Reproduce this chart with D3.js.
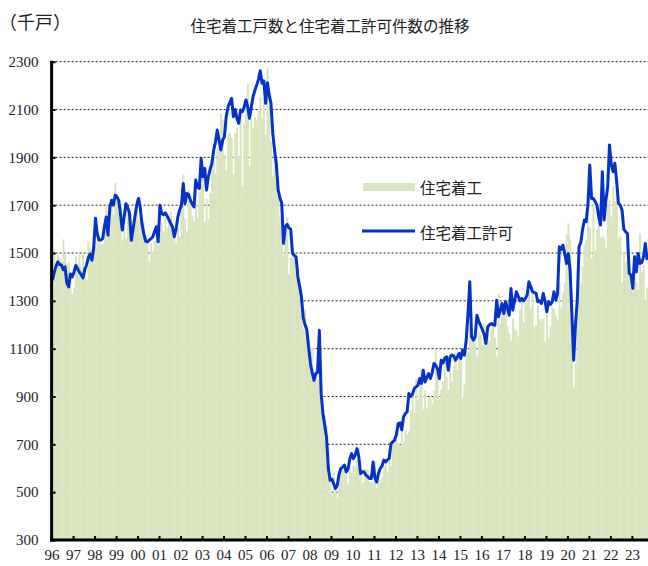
<!DOCTYPE html>
<html><head><meta charset="utf-8">
<script src="https://cdn.jsdelivr.net/npm/d3@7"></script>
<style>
html,body{margin:0;padding:0;background:#fff;}
svg{display:block;}
</style></head>
<body>
<svg id="chart" width="648" height="566"></svg>
<script>
// ---- data (thousands of units, monthly from Jan 1996) ----
const title = "住宅着工戸数と住宅着工許可件数の推移";
const unitLabel = "（千戸）";
const seriesNames = ["住宅着工", "住宅着工許可"];
const yearLabels = ["96","97","98","99","00","01","02","03","04","05","06","07","08","09","10","11","12","13","14","15","16","17","18","19","20","21","22","23"];
const yTicks = [300,500,700,900,1100,1300,1500,1700,1900,2100,2300];

const starts = [
 1437,1515,1457,1492,1478,1467,1557,1491,1454,1460,1403,1330, // 1996
 1355,1486,1457,1492,1442,1494,1437,1390,1546,1520,1510,1566, // 1997
 1525,1584,1567,1540,1536,1641,1698,1614,1582,1715,1660,1792, // 1998
 1748,1670,1710,1553,1611,1559,1669,1648,1635,1608,1648,1708, // 1999
 1636,1737,1604,1626,1575,1559,1463,1541,1507,1549,1551,1532, // 2000
 1600,1625,1590,1649,1605,1636,1670,1567,1562,1540,1602,1568, // 2001
 1698,1829,1642,1592,1764,1717,1655,1633,1804,1648,1753,1788, // 2002
 1853,1629,1726,1643,1751,1867,1897,1833,1939,1967,2083,2057, // 2003
 1911,1846,1998,2003,1981,1828,2002,2024,1905,2072,1782,2042, // 2004
 2144,2207,1864,2061,2025,2068,2054,2095,2151,2065,2147,1994, // 2005
 2273,2119,1969,1821,1942,1802,1737,1650,1720,1491,1570,1649, // 2006
 1409,1480,1495,1490,1415,1448,1354,1330,1183,1264,1197,1037, // 2007
 1084,1103,1005,1013,973,1046,923,844,820,777,652,560,        // 2008
 490,582,505,478,540,585,594,586,585,534,588,581,             // 2009
 614,604,636,687,583,536,546,599,594,543,545,539,             // 2010
 630,517,600,554,561,608,623,585,650,611,719,703,             // 2011
 720,704,695,753,708,757,740,754,847,915,833,976,             // 2012
 888,962,1010,847,925,849,893,898,868,923,1097,1000,          // 2013
 888,929,962,1052,984,927,1085,962,1025,1087,1012,1072,       // 2014
 1087,894,951,1191,1085,1185,1142,1151,1185,1067,1171,1157,   // 2015
 1114,1208,1113,1160,1136,1183,1207,1146,1070,1328,1204,1288, // 2016
 1252,1290,1192,1164,1133,1225,1183,1174,1150,1262,1299,1209, // 2017
 1328,1291,1344,1268,1328,1190,1198,1279,1224,1216,1225,1130, // 2018
 1257,1147,1195,1273,1265,1239,1222,1376,1269,1335,1374,1578, // 2019
 1624,1558,1276,938,1038,1275,1497,1371,1445,1535,1557,1669,  // 2020
 1606,1480,1706,1509,1596,1666,1564,1571,1562,1524,1703,1722, // 2021
 1652,1777,1716,1810,1562,1571,1377,1505,1463,1432,1419,1357, // 2022
 1340,1436,1380,1348,1583,1418,1451,1305,1356                 // 2023
];

const permits = [
 1387,1420,1445,1463,1452,1450,1430,1442,1375,1358,1412,1400, // 1996
 1420,1448,1435,1420,1410,1396,1430,1450,1480,1496,1470,1520, // 1997
 1645,1580,1554,1554,1560,1610,1651,1575,1690,1721,1700,1742, // 1998
 1735,1720,1660,1596,1650,1706,1690,1666,1553,1600,1650,1700, // 1999
 1728,1690,1620,1580,1550,1547,1554,1560,1568,1590,1610,1547, // 2000
 1700,1665,1660,1668,1655,1640,1624,1610,1568,1600,1651,1680, // 2001
 1700,1791,1707,1749,1745,1720,1705,1693,1805,1775,1770,1896, // 2002
 1819,1854,1763,1819,1850,1875,1930,1965,2014,1972,1931,1972, // 2003
 1986,2070,2110,2130,2147,2070,2100,2063,2042,2098,2091,2110, // 2004
 2140,2112,2063,2110,2154,2180,2202,2225,2262,2210,2220,2126, // 2005
 2212,2160,2126,2000,1930,1870,1763,1730,1707,1540,1610,1620, // 2006
 1605,1600,1500,1490,1484,1400,1360,1317,1230,1200,1180,1108, // 2007
 1038,1000,968,996,1000,1177,913,829,780,731,600,550,         // 2008
 555,535,515,529,575,599,605,613,585,595,640,661,             // 2009
 640,655,682,650,578,585,585,571,565,557,557,626,             // 2010
 560,543,578,599,610,634,627,635,641,703,710,717,             // 2011
 740,787,790,760,815,829,836,913,900,910,934,940,             // 2012
 947,975,955,1010,961,980,996,975,1000,1038,1030,1015,        // 2013
 975,1052,1040,1060,1066,1010,1066,1073,1070,1052,1065,1080,  // 2014
 1059,1094,1073,1136,1247,1380,1150,1136,1150,1240,1215,1198, // 2015
 1180,1160,1122,1191,1200,1205,1200,1198,1303,1233,1260,1289, // 2016
 1247,1296,1270,1240,1352,1261,1300,1338,1320,1300,1310,1300, // 2017
 1310,1324,1380,1360,1338,1335,1331,1296,1300,1289,1331,1300, // 2018
 1254,1296,1285,1296,1338,1303,1330,1526,1515,1533,1498,1456, // 2019
 1498,1428,1247,1052,1200,1300,1526,1545,1600,1638,1631,1708, // 2020
 1868,1728,1728,1715,1700,1651,1617,1840,1638,1721,1777,1952, // 2021
 1870,1840,1875,1800,1708,1700,1680,1600,1589,1582,1415,1408, // 2022
 1352,1484,1421,1498,1456,1460,1484,1540,1470                 // 2023
];

// ---- drawing ----
const svg = d3.select("#chart");
const W = 648, H = 566;
const left = 51.6, monthW = 1.791;
const x = d3.scaleLinear().domain([0, yearLabels.length * 12]).range([left, left + yearLabels.length * 12 * monthW]);
const y = d3.scaleLinear().domain([300, 2300]).range([540, 61.7]);

const green = "#d8e4bd", blue = "#0433c8";
const jpFont = "'Noto Sans CJK JP', 'Noto Sans', sans-serif";
const numFont = "'Liberation Serif', 'DejaVu Serif', serif";

svg.append("rect").attr("width", W).attr("height", H).attr("fill", "#fff");

// gridlines
svg.append("g").selectAll("line").data(yTicks.filter(v => v > 300)).join("line")
  .attr("x1", left).attr("x2", W)
  .attr("y1", d => y(d)).attr("y2", d => y(d))
  .attr("stroke", "#222").attr("stroke-width", 1).attr("stroke-dasharray", "2,2");

// bars (housing starts)
svg.append("g").selectAll("rect").data(starts).join("rect")
  .attr("x", (d, i) => x(i))
  .attr("width", (d, i) => x(i + 1) - x(i) + 0.25)
  .attr("y", d => y(d))
  .attr("height", d => y(300) - y(d))
  .attr("fill", green);

// permits line
const line = d3.line().x((d, i) => x(i + 0.5)).y(d => y(d));
svg.append("path").datum(permits)
  .attr("d", line)
  .attr("fill", "none").attr("stroke", blue).attr("stroke-width", 3)
  .attr("stroke-linejoin", "round");

// axes
const yAxis = d3.axisLeft(y).tickValues(yTicks).tickSize(-4).tickPadding(13).tickFormat(d3.format("d"));
const gy = svg.append("g").attr("transform", `translate(${left},0)`).call(yAxis);
gy.select(".domain").remove();
gy.selectAll(".tick line").attr("stroke", "#000").attr("stroke-width", 2);
gy.selectAll(".tick text").attr("font-family", numFont).attr("font-size", 15).attr("fill", "#222");

const xAxis = d3.axisBottom(x).tickValues(d3.range(0, yearLabels.length).map(k => k * 12))
  .tickSize(-4).tickPadding(9).tickFormat((d, k) => yearLabels[k]);
const gx = svg.append("g").attr("transform", `translate(0,540)`).call(xAxis);
gx.select(".domain").remove();
gx.selectAll(".tick line").attr("stroke", "#000").attr("stroke-width", 2);
gx.selectAll(".tick text").attr("font-family", numFont).attr("font-size", 15).attr("fill", "#222");

svg.append("line").attr("x1", left).attr("x2", left).attr("y1", y(2300) - 1).attr("y2", y(300) + 1.5)
  .attr("stroke", "#000").attr("stroke-width", 3);
svg.append("line").attr("x1", left - 1.5).attr("x2", W).attr("y1", y(300)).attr("y2", y(300))
  .attr("stroke", "#000").attr("stroke-width", 3);

// titles
svg.append("text").attr("x", 330).attr("y", 32).attr("text-anchor", "middle")
  .attr("font-family", jpFont).attr("font-size", 15.5).attr("fill", "#222").text(title);
svg.append("text").attr("x", -1).attr("y", 29)
  .attr("font-family", jpFont).attr("font-size", 18).attr("fill", "#222").text(unitLabel);

// legend
const lg = svg.append("g");
lg.append("rect").attr("x", 363).attr("y", 183).attr("width", 52).attr("height", 8).attr("fill", green);
lg.append("text").attr("x", 420).attr("y", 193.5).attr("font-family", jpFont).attr("font-size", 15.5)
  .attr("fill", "#222").text(seriesNames[0]);
lg.append("line").attr("x1", 362).attr("x2", 415).attr("y1", 231).attr("y2", 231)
  .attr("stroke", blue).attr("stroke-width", 3);
lg.append("text").attr("x", 420).attr("y", 238.5).attr("font-family", jpFont).attr("font-size", 15.5)
  .attr("fill", "#222").text(seriesNames[1]);
</script>
</body></html>
